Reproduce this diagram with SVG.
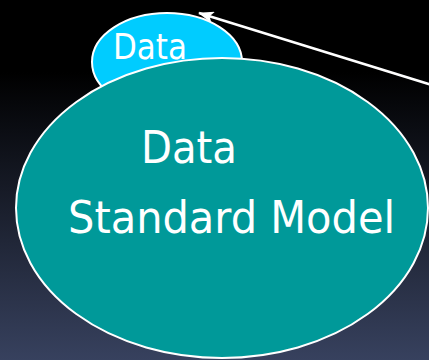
<svg xmlns="http://www.w3.org/2000/svg" width="429" height="360" viewBox="0 0 429 360">
  <defs>
    <linearGradient id="bg" x1="0" y1="0" x2="0" y2="1">
      <stop offset="0" stop-color="#000000"/>
      <stop offset="0.2" stop-color="#000000"/>
      <stop offset="1" stop-color="#37415e"/>
    </linearGradient>
    <marker id="head" viewBox="0 0 16 12" refX="15" refY="6" markerWidth="16" markerHeight="12" orient="auto" markerUnits="userSpaceOnUse">
      <path d="M0,0 L16,6 L0,12 L4,6 z" fill="#ffffff"/>
    </marker>
    <style>
      .node { stroke: #ffffff; stroke-width: 2; }
      .label { font-family: "DejaVu Sans", Verdana, sans-serif; fill: #ffffff; }
    </style>
  </defs>

  <rect width="429" height="360" fill="url(#bg)"/>

  <!-- small "Data" bubble, partly covered by the model -->
  <g id="data-small">
    <ellipse class="node" cx="167" cy="62" rx="75" ry="49" fill="#00ccff"/>
    <text class="label" x="113" y="59" font-size="35" textLength="74" lengthAdjust="spacingAndGlyphs">Data</text>
  </g>

  <!-- main model -->
  <g id="standard-model">
    <ellipse class="node" cx="222" cy="208" rx="206" ry="150" fill="#009999"/>
    <text class="label" x="141" y="163" font-size="44" textLength="96" lengthAdjust="spacingAndGlyphs">Data</text>
    <text class="label" x="68" y="233" font-size="45" textLength="327" lengthAdjust="spacingAndGlyphs">Standard Model</text>
  </g>

  <g id="connectors">
    <line x1="432" y1="85" x2="199" y2="13" stroke="#ffffff" stroke-width="2.5" marker-end="url(#head)"/>
  </g>
</svg>
